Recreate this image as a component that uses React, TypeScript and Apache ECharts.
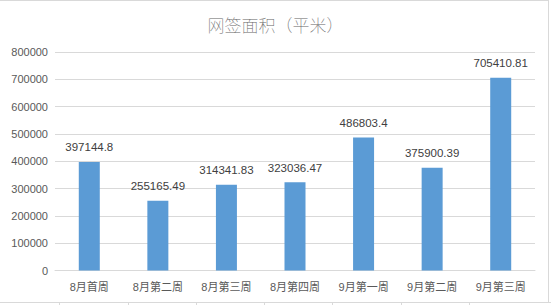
import React, { useEffect, useRef } from "react";
import * as echarts from "echarts";

const categories = ["8月首周", "8月第二周", "8月第三周", "8月第四周", "9月第一周", "9月第二周", "9月第三周"];
const areaValues = [397144.8, 255165.49, 314341.83, 323036.47, 486803.4, 375900.39, 705410.81];
const yMax = 800000;
const yStep = 100000;

const FONT = '"Liberation Sans", "Noto Sans CJK SC", sans-serif';
const CJK_FONT = '"Noto Sans CJK SC", sans-serif';

export default function App() {
  const ref = useRef<HTMLDivElement>(null);

  useEffect(() => {
    if (!ref.current) return;
    const chart = echarts.init(ref.current, null, { renderer: "svg" });
    const frame = "#d9d9d9";
    const bottomTicks = [59, 128, 196, 264, 332, 401, 469];
    chart.setOption({
      animation: false,
      backgroundColor: "#ffffff",
      title: {
        text: "网签面积（平米）",
        left: "center",
        top: 11,
        textStyle: {
          fontFamily: CJK_FONT,
          fontSize: 17,
          fontWeight: "lighter",
          color: "#666666",
        },
      },
      grid: { left: 55, right: 16, top: 52, bottom: 34.5 },
      xAxis: {
        type: "category",
        data: categories,
        axisLine: { lineStyle: { color: frame } },
        axisTick: { show: false },
        axisLabel: {
          color: "#595959",
          fontFamily: FONT,
          fontSize: 11,
          margin: 11,
          interval: 0,
        },
      },
      yAxis: {
        type: "value",
        min: 0,
        max: yMax,
        interval: yStep,
        axisLine: { show: false },
        axisTick: { show: false },
        splitLine: { lineStyle: { color: frame } },
        axisLabel: {
          color: "#595959",
          fontFamily: FONT,
          fontSize: 11,
          margin: 7,
          formatter: (v: number) => String(v),
        },
      },
      series: [
        {
          type: "bar",
          data: areaValues,
          barWidth: 21,
          itemStyle: { color: "#5b9bd5" },
          label: {
            show: true,
            position: "top",
            distance: 9,
            color: "#404040",
            fontFamily: FONT,
            fontSize: 11.5,
            formatter: (p: any) => String(p.value),
          },
        },
      ],
      graphic: [
        { type: "line", shape: { x1: 0, y1: 0.5, x2: 549, y2: 0.5 }, style: { stroke: frame, lineWidth: 1 } },
        { type: "line", shape: { x1: 548.5, y1: 0, x2: 548.5, y2: 303 }, style: { stroke: frame, lineWidth: 1 } },
        { type: "line", shape: { x1: 0, y1: 302.5, x2: 551, y2: 302.5 }, style: { stroke: frame, lineWidth: 1 } },
        ...bottomTicks.map((x) => ({
          type: "line",
          shape: { x1: x + 0.5, y1: 302, x2: x + 0.5, y2: 305 },
          style: { stroke: frame, lineWidth: 1 },
        })),
      ],
    });
    return () => chart.dispose();
  }, []);

  return (
    <div style={{ position: "fixed", left: 0, top: 0, width: 551, height: 305 }}>
      <div ref={ref} style={{ width: 551, height: 305 }} />
    </div>
  );
}
